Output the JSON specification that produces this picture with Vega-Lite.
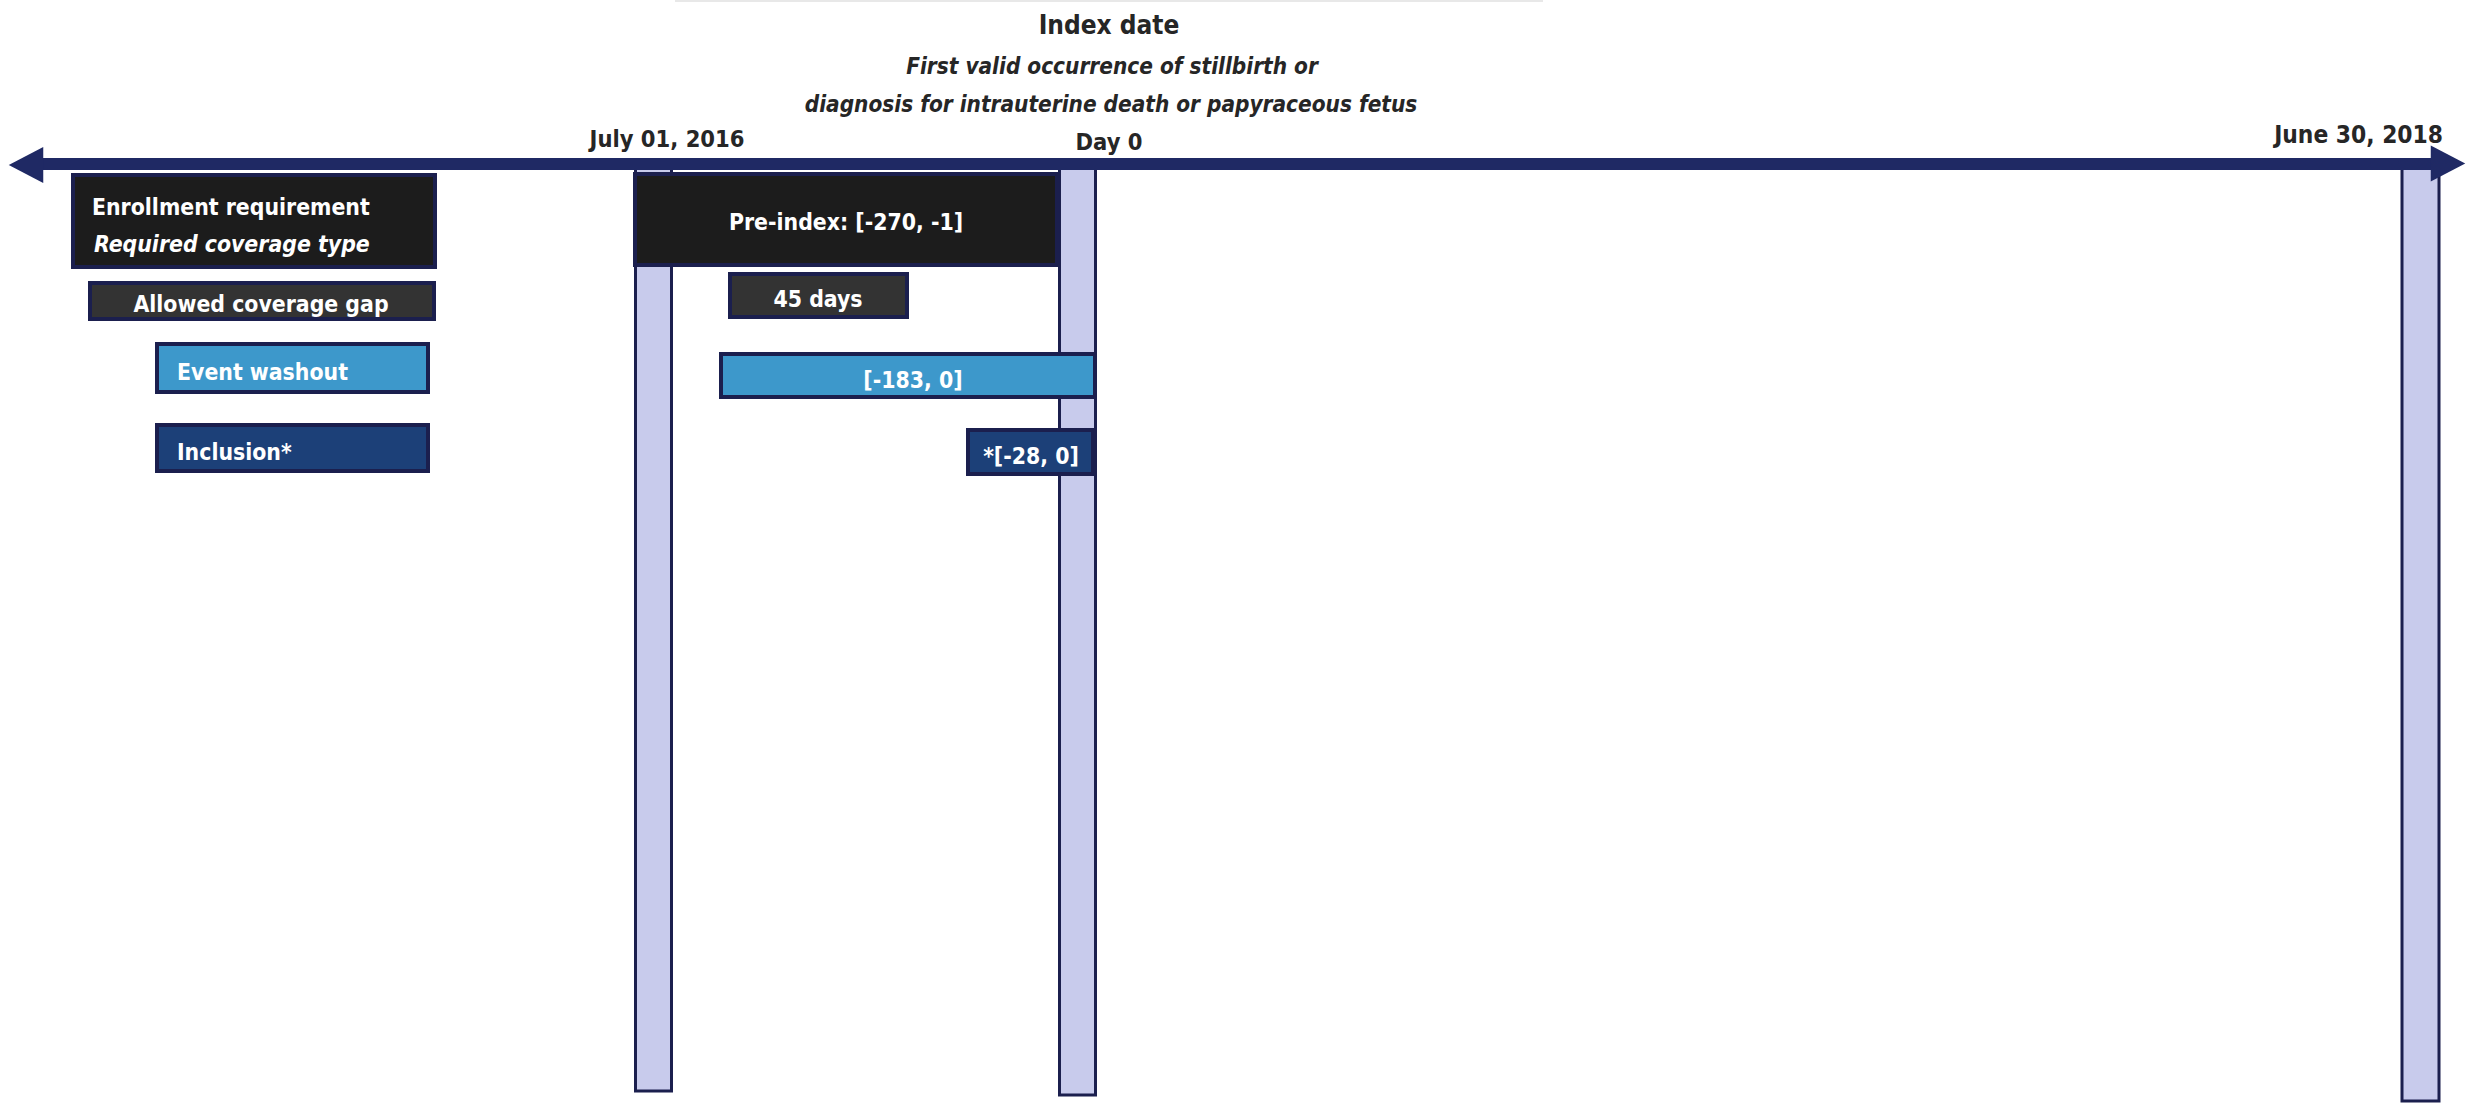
{
  "$schema": "https://vega.github.io/schema/vega-lite/v6.json",
  "width": 2466,
  "height": 1104,
  "autosize": {"type": "fit", "contains": "padding"},
  "padding": 0,
  "background": "white",
  "config": {"view": {"stroke": null}, "text": {"font": "DejaVu Sans Condensed, DejaVu Sans, sans-serif"}},
  "datasets": {
    "frame": [{"x0": 675, "x1": 1543, "y": 1}],
    "bars": [
      {"label": "July 01, 2016", "x0": 635.5, "x1": 671.5, "y0": 168, "y1": 1091},
      {"label": "Day 0", "x0": 1059.5, "x1": 1095.5, "y0": 168, "y1": 1095},
      {"label": "June 30, 2018", "x0": 2402, "x1": 2439, "y0": 168, "y1": 1101}
    ],
    "boxes": [
      {"name": "Enrollment requirement", "kind": "enroll", "x0": 73, "x1": 435, "y0": 175, "y1": 267},
      {"name": "Allowed coverage gap", "kind": "gap", "x0": 90, "x1": 434, "y0": 283, "y1": 319},
      {"name": "Event washout", "kind": "washout", "x0": 157, "x1": 428, "y0": 344, "y1": 392},
      {"name": "Inclusion*", "kind": "inclusion", "x0": 157, "x1": 428, "y0": 425, "y1": 471},
      {"name": "Pre-index", "kind": "enroll", "x0": 635, "x1": 1057, "y0": 174, "y1": 265},
      {"name": "45 days", "kind": "gap", "x0": 730, "x1": 907, "y0": 274, "y1": 317},
      {"name": "Washout window", "kind": "washout", "x0": 721, "x1": 1095, "y0": 354, "y1": 397},
      {"name": "Inclusion window", "kind": "inclusion", "x0": 968, "x1": 1093, "y0": 430, "y1": 474}
    ],
    "axisline": [{"x0": 40, "x1": 2434, "y": 164}],
    "heads": [
      {"dir": "left", "x": 26, "y": 165},
      {"dir": "right", "x": 2448, "y": 163.5}
    ],
    "labels": [
      {"text": "Index date", "role": "title", "x": 1109, "y": 34},
      {"text": "First valid occurrence of  stillbirth or", "role": "subtitle", "x": 1112, "y": 74},
      {"text": "diagnosis for intrauterine death or papyraceous fetus", "role": "subtitle", "x": 1111, "y": 112},
      {"text": "July 01, 2016", "role": "date", "x": 667, "y": 147},
      {"text": "Day 0", "role": "date", "x": 1109, "y": 150},
      {"text": "June 30, 2018", "role": "dateRight", "x": 2443, "y": 143},
      {"text": "Enrollment requirement", "role": "boxLeft", "x": 92, "y": 215},
      {"text": "Required coverage type", "role": "boxLeftItalic", "x": 94, "y": 252},
      {"text": "Allowed coverage gap", "role": "boxCenter", "x": 261, "y": 312},
      {"text": "Event washout", "role": "boxLeft", "x": 177, "y": 380},
      {"text": "Inclusion*", "role": "boxLeft", "x": 177, "y": 460},
      {"text": "Pre-index: [-270, -1]", "role": "boxCenter", "x": 846, "y": 230},
      {"text": "45 days", "role": "boxCenter", "x": 818, "y": 307},
      {"text": "[-183, 0]", "role": "boxCenter", "x": 913, "y": 388},
      {"text": "*[-28, 0]", "role": "boxCenter", "x": 1031, "y": 464}
    ]
  },
  "layer": [
    {
      "data": {"name": "frame"},
      "mark": {"type": "rule", "color": "#e8e8e8", "strokeWidth": 2},
      "encoding": {
        "x": {"field": "x0", "type": "quantitative", "scale": {"domain": [0, 2466], "nice": false, "zero": false}, "axis": null},
        "x2": {"field": "x1"},
        "y": {"field": "y", "type": "quantitative", "scale": {"domain": [0, 1104], "nice": false, "zero": false, "reverse": true}, "axis": null}
      }
    },
    {
      "data": {"name": "bars"},
      "mark": {"type": "rect", "fill": "#c8cbec", "stroke": "#1b1f4e", "strokeWidth": 3},
      "encoding": {
        "x": {"field": "x0", "type": "quantitative", "scale": {"domain": [0, 2466], "nice": false, "zero": false}, "axis": null},
        "x2": {"field": "x1"},
        "y": {"field": "y0", "type": "quantitative", "scale": {"domain": [0, 1104], "nice": false, "zero": false, "reverse": true}, "axis": null},
        "y2": {"field": "y1"}
      }
    },
    {
      "data": {"name": "boxes"},
      "mark": {"type": "rect", "stroke": "#1b1f4e", "strokeWidth": 4},
      "encoding": {
        "x": {"field": "x0", "type": "quantitative", "scale": {"domain": [0, 2466], "nice": false, "zero": false}, "axis": null},
        "x2": {"field": "x1"},
        "y": {"field": "y0", "type": "quantitative", "scale": {"domain": [0, 1104], "nice": false, "zero": false, "reverse": true}, "axis": null},
        "y2": {"field": "y1"},
        "fill": {"field": "kind", "type": "nominal", "scale": {"domain": ["enroll", "gap", "washout", "inclusion"], "range": ["#1c1c1c", "#333333", "#3d98cb", "#1c4078"]}, "legend": null}
      }
    },
    {
      "data": {"name": "axisline"},
      "mark": {"type": "rule", "color": "#1f2964", "strokeWidth": 12},
      "encoding": {
        "x": {"field": "x0", "type": "quantitative", "scale": {"domain": [0, 2466], "nice": false, "zero": false}, "axis": null},
        "x2": {"field": "x1"},
        "y": {"field": "y", "type": "quantitative", "scale": {"domain": [0, 1104], "nice": false, "zero": false, "reverse": true}, "axis": null}
      }
    },
    {
      "data": {"name": "heads"},
      "mark": {"type": "point", "filled": true, "fill": "#1f2964", "opacity": 1, "strokeWidth": 0, "size": 1190},
      "encoding": {
        "x": {"field": "x", "type": "quantitative", "scale": {"domain": [0, 2466], "nice": false, "zero": false}, "axis": null},
        "y": {"field": "y", "type": "quantitative", "scale": {"domain": [0, 1104], "nice": false, "zero": false, "reverse": true}, "axis": null},
        "shape": {"field": "dir", "type": "nominal", "scale": {"domain": ["left", "right"], "range": ["M1,-1.05L-1,0L1,1.05Z", "M-1,-1.05L1,0L-1,1.05Z"]}, "legend": null}
      }
    },
    {
      "data": {"name": "labels"},
      "transform": [{"filter": "datum.role === 'title'"}],
      "mark": {"type": "text", "fontWeight": "bold", "fontSize": 26, "align": "center", "baseline": "alphabetic", "color": "#262626"},
      "encoding": {
        "x": {"field": "x", "type": "quantitative", "scale": {"domain": [0, 2466], "nice": false, "zero": false}, "axis": null},
        "y": {"field": "y", "type": "quantitative", "scale": {"domain": [0, 1104], "nice": false, "zero": false, "reverse": true}, "axis": null},
        "text": {"field": "text"}
      }
    },
    {
      "data": {"name": "labels"},
      "transform": [{"filter": "datum.role === 'subtitle'"}],
      "mark": {"type": "text", "fontWeight": "bold", "fontStyle": "italic", "fontSize": 22.4, "align": "center", "baseline": "alphabetic", "color": "#262626"},
      "encoding": {
        "x": {"field": "x", "type": "quantitative", "scale": {"domain": [0, 2466], "nice": false, "zero": false}, "axis": null},
        "y": {"field": "y", "type": "quantitative", "scale": {"domain": [0, 1104], "nice": false, "zero": false, "reverse": true}, "axis": null},
        "text": {"field": "text"}
      }
    },
    {
      "data": {"name": "labels"},
      "transform": [{"filter": "datum.role === 'date'"}],
      "mark": {"type": "text", "fontWeight": "bold", "fontSize": 23.5, "align": "center", "baseline": "alphabetic", "color": "#262626"},
      "encoding": {
        "x": {"field": "x", "type": "quantitative", "scale": {"domain": [0, 2466], "nice": false, "zero": false}, "axis": null},
        "y": {"field": "y", "type": "quantitative", "scale": {"domain": [0, 1104], "nice": false, "zero": false, "reverse": true}, "axis": null},
        "text": {"field": "text"}
      }
    },
    {
      "data": {"name": "labels"},
      "transform": [{"filter": "datum.role === 'dateRight'"}],
      "mark": {"type": "text", "fontWeight": "bold", "fontSize": 24.3, "align": "right", "baseline": "alphabetic", "color": "#262626"},
      "encoding": {
        "x": {"field": "x", "type": "quantitative", "scale": {"domain": [0, 2466], "nice": false, "zero": false}, "axis": null},
        "y": {"field": "y", "type": "quantitative", "scale": {"domain": [0, 1104], "nice": false, "zero": false, "reverse": true}, "axis": null},
        "text": {"field": "text"}
      }
    },
    {
      "data": {"name": "labels"},
      "transform": [{"filter": "datum.role === 'boxCenter'"}],
      "mark": {"type": "text", "fontWeight": "bold", "fontSize": 22.8, "align": "center", "baseline": "alphabetic", "color": "#ffffff"},
      "encoding": {
        "x": {"field": "x", "type": "quantitative", "scale": {"domain": [0, 2466], "nice": false, "zero": false}, "axis": null},
        "y": {"field": "y", "type": "quantitative", "scale": {"domain": [0, 1104], "nice": false, "zero": false, "reverse": true}, "axis": null},
        "text": {"field": "text"}
      }
    },
    {
      "data": {"name": "labels"},
      "transform": [{"filter": "datum.role === 'boxLeft'"}],
      "mark": {"type": "text", "fontWeight": "bold", "fontSize": 22.8, "align": "left", "baseline": "alphabetic", "color": "#ffffff"},
      "encoding": {
        "x": {"field": "x", "type": "quantitative", "scale": {"domain": [0, 2466], "nice": false, "zero": false}, "axis": null},
        "y": {"field": "y", "type": "quantitative", "scale": {"domain": [0, 1104], "nice": false, "zero": false, "reverse": true}, "axis": null},
        "text": {"field": "text"}
      }
    },
    {
      "data": {"name": "labels"},
      "transform": [{"filter": "datum.role === 'boxLeftItalic'"}],
      "mark": {"type": "text", "fontWeight": "bold", "fontStyle": "italic", "fontSize": 22.8, "align": "left", "baseline": "alphabetic", "color": "#ffffff"},
      "encoding": {
        "x": {"field": "x", "type": "quantitative", "scale": {"domain": [0, 2466], "nice": false, "zero": false}, "axis": null},
        "y": {"field": "y", "type": "quantitative", "scale": {"domain": [0, 1104], "nice": false, "zero": false, "reverse": true}, "axis": null},
        "text": {"field": "text"}
      }
    }
  ]
}
